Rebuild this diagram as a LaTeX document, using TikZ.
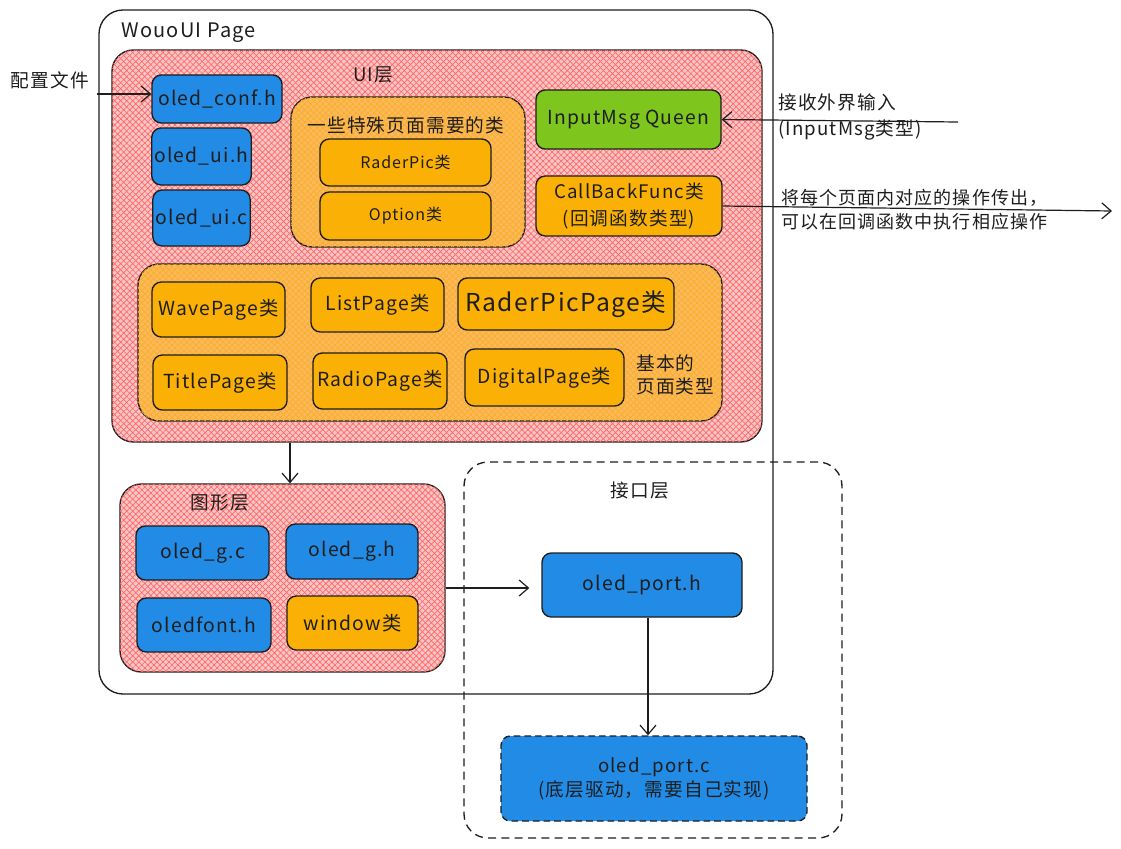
\documentclass[tikz,border=0pt]{standalone}
\usepackage{fontspec}
\setmainfont{Noto Sans CJK SC}[LetterSpace=6]
\usetikzlibrary{arrows.meta,patterns.meta}
\definecolor{cblue}{HTML}{228BE6}
\definecolor{corange}{HTML}{FAB005}
\definecolor{cgreen}{HTML}{7EC51E}
\definecolor{cpink}{HTML}{FFC4C4}
\definecolor{chatch}{HTML}{F86A6A}
\definecolor{cink}{HTML}{1E1E1E}
\definecolor{corhatch}{HTML}{F9AE28}
\tikzset{
  sz/.style 2 args={minimum width=#1*0.75pt, minimum height=#2*0.75pt},
  box/.style={draw=cink, line width=1pt, rounded corners=7pt, inner sep=2pt, align=center, text=cink, font=\fontsize{14.5}{17}\selectfont},
  bluebox/.style={box, fill=cblue},
  orbox/.style={box, fill=corange},
  layer/.style={draw=cink, line width=1pt, rounded corners=16pt, fill=cpink,
    postaction={pattern={Hatch[angle=45,distance=3.2pt,line width=0.5pt]}, pattern color=chatch}},
  orgroup/.style={draw=cink, line width=1pt, rounded corners=16pt, fill=corange!55!cpink,
    postaction={pattern={Hatch[angle=45,distance=3.2pt,line width=0.5pt]}, pattern color=corhatch}},
  arr/.style={draw=cink, line width=0.9pt, -{Straight Barb[length=7pt,width=12pt,line width=0.9pt]}},
  lbl/.style={text=cink, font=\fontsize{14}{17}\selectfont, inner sep=0pt, align=center},
}
\begin{document}
\begin{tikzpicture}[x=0.75pt,y=-0.75pt]
\useasboundingbox (0,0) rectangle (1121,849);
\fill[white] (0,0) rectangle (1121,849);
% outer page
\node[draw=cink, line width=1pt, rounded corners=18pt, sz={674}{684}, fill=white] (page) at (436,352) {};
\node[lbl, anchor=west, font=\fontsize{15}{17}\selectfont] (pagelbl) at (121,33) {WouoUI Page};
% UI layer
\node[layer, sz={650}{392}] (ui) at (437,246) {};
\node[lbl] (uilbl) at (373,75) {UI层};
\node[bluebox, sz={130}{48}] (conf) at (217,99) {oled\_conf.h};
\node[bluebox, sz={97}{57}] (uih) at (201.5,156.5) {oled\_ui.h};
\node[bluebox, sz={97}{56}] (uic) at (201.5,218) {oled\_ui.c};
\node[orgroup, sz={234}{150}] (special) at (408,172) {};
\node[lbl] (speciallbl) at (406,125) {一些特殊页面需要的类};
\node[orbox, sz={171}{47}, font=\fontsize{12}{14}\selectfont] (raderpic) at (405.5,162.5) {RaderPic类};
\node[orbox, sz={171}{48}, font=\fontsize{12}{14}\selectfont] (option) at (405.5,216) {Option类};
\node[box, fill=cgreen, sz={185}{59}] (input) at (628.5,119.5) {InputMsg Queen};
\node[orbox, sz={186}{60}, align=center, font=\fontsize{14}{20}\selectfont] (callback) at (629,206) {CallBackFunc类\\(回调函数类型)};
\node[orgroup, sz={584}{157}] (basic) at (430,342.5) {};
\node[orbox, sz={133}{55}] (wave) at (218.5,309.5) {WavePage类};
\node[orbox, sz={133}{54}] (list) at (377.5,305) {ListPage类};
\node[orbox, sz={216}{52}, font=\fontsize{18.5}{20}\selectfont] (rpp) at (566,304) {RaderPicPage类};
\node[orbox, sz={134}{55}] (title) at (220,382.5) {TitlePage类};
\node[orbox, sz={134}{56}] (radio) at (380,381) {RadioPage类};
\node[orbox, sz={159}{57}] (digital) at (544.5,377.5) {DigitalPage类};
\node[lbl, align=left, anchor=west, font=\fontsize{14}{17.5}\selectfont] (basiclbl) at (636,375) {基本的\\页面类型};
% graphics layer
\node[layer, sz={325}{188}] (gfx) at (282.5,578) {};
\node[lbl] (gfxlbl) at (220,503) {图形层};
\node[bluebox, sz={133}{54}] (gc) at (202.5,553) {oled\_g.c};
\node[bluebox, sz={132}{55}] (gh) at (352,551.5) {oled\_g.h};
\node[bluebox, sz={134}{54}] (gfont) at (204,625) {oledfont.h};
\node[orbox, sz={131}{54}] (window) at (352.5,623) {window类};
% interface layer
\node[draw=cink, line width=1pt, dashed, dash pattern=on 6pt off 4pt, rounded corners=18pt, sz={378}{376}] (iface) at (653,650) {};
\node[lbl] (ifacelbl) at (640,490) {接口层};
\node[bluebox, sz={200}{64}] (porth) at (642,585) {oled\_port.h};
\node[bluebox, dashed, dash pattern=on 5pt off 3pt, sz={306}{85}, font=\fontsize{14}{18}\selectfont] (portc) at (654,778.5) {oled\_port.c\\(底层驱动，需要自己实现)};
% outside labels
\node[lbl] (cfglbl) at (50,80) {配置文件};
\node[lbl, align=left, anchor=west, font=\fontsize{14}{20}\selectfont] (inlbl) at (778,117) {接收外界输入\\(InputMsg类型)};
\node[lbl, align=left, anchor=west, font=\fontsize{13.5}{18}\selectfont] (outlbl) at (781,210) {将每个页面内对应的操作传出，\\可以在回调函数中执行相应操作};
% coordinates
\coordinate (cfgstart) at (97,94);
\coordinate (instart) at (958,122);
\coordinate (outend) at (1112,211);
\coordinate (xdown) at (290,0);
\coordinate (yport) at (0,588);
\coordinate (xport) at (648,0);
% arrows
\draw[arr] (cfgstart) -- (cfgstart -| conf.west);
\draw[arr] (instart) -- (input.east);
\draw[arr] (callback.east) -- (outend);
\draw[arr] (ui.south -| xdown) -- (gfx.north -| xdown);
\draw[arr, shorten >=9pt] (gfx.east |- yport) -- (porth.west |- yport);
\draw[arr] (porth.south -| xport) -- (portc.north -| xport);
\end{tikzpicture}
\end{document}
